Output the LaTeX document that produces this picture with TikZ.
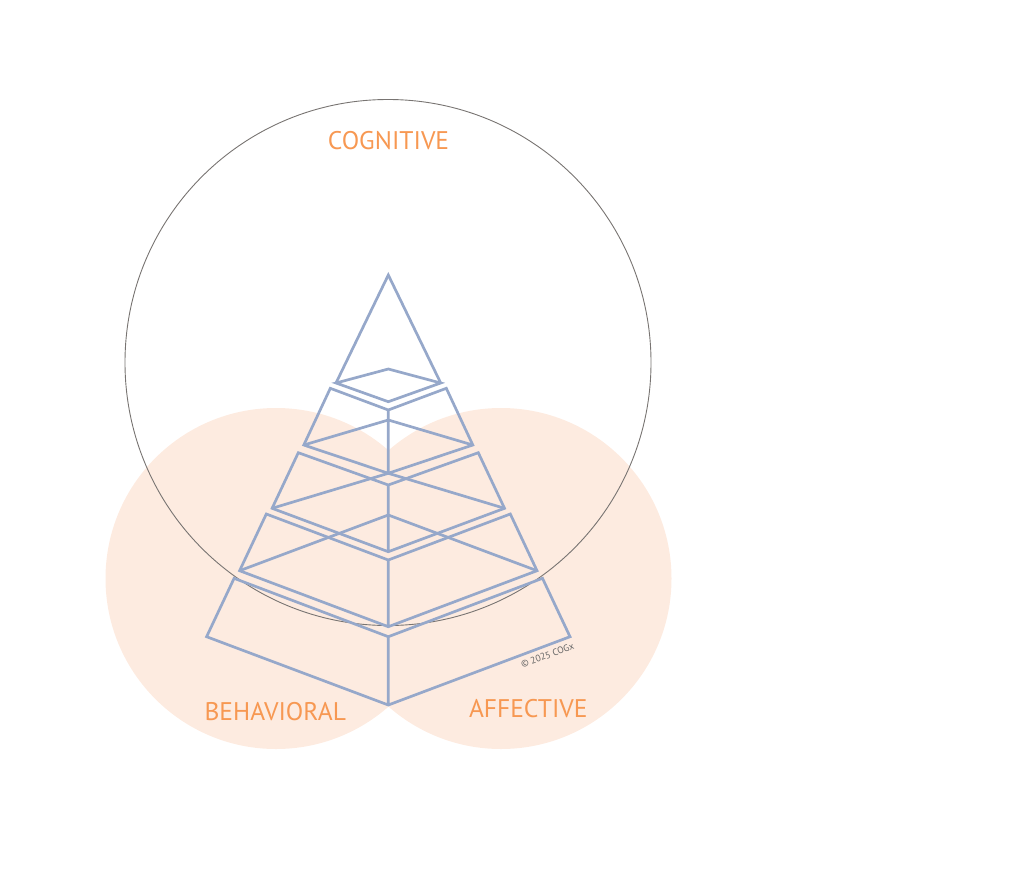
\documentclass[tikz,border=0pt]{standalone}
\usepackage{fontspec}
\setmainfont{PT Sans}
\definecolor{peach}{RGB}{253,235,224}
\definecolor{tagorange}{RGB}{247,152,82}
\definecolor{wire}{RGB}{150,168,202}
\definecolor{rim}{RGB}{120,116,114}
\begin{document}
\begin{tikzpicture}
  [x=1pt,y=-1pt,
   blob/.style={fill=peach,draw=none},
   slab/.style={draw=wire,line width=2.7pt},
   lbl/.style={text=tagorange,font=\fontsize{25.5}{30}\selectfont,anchor=base}]
  \useasboundingbox (0,0) rectangle (1024,889);
  \def\cx{388.3}
  % the three circles
  \fill[blob] (276,578.5) circle[radius=170.5];
  \fill[blob] (501,578.5) circle[radius=170.5];
  \draw[rim,line width=0.9pt] (388,362.5) circle[radius=263];
  % tip of the pyramid
  \coordinate (top) at (\cx,275);
  \coordinate (bl1) at (336,383);
  \coordinate (br1) at (440.7,383);
  \coordinate (bb1) at (\cx,369);
  \coordinate (bf1) at (\cx,401.7);
  \draw[slab] (bl1) -- (top) -- (br1);
  \draw[slab] (bl1) -- (bb1) -- (br1) -- (bf1) -- cycle;
  % the lower slices
  \foreach \i/\ty/\tw/\tf/\by/\bw/\bf in
    {2/388.3/58/410/445/84.5/473.3, 3/452.7/90/485/508.3/116.2/551.7,
     4/514/122/560/570.7/148.7/626.7, 5/578.3/154.2/636.7/636.7/181.7/705}
  {
    \coordinate (tl\i) at ({\cx-\tw},\ty);
    \coordinate (tr\i) at ({\cx+\tw},\ty);
    \coordinate (tf\i) at (\cx,\tf);
    \coordinate (bl\i) at ({\cx-\bw},\by);
    \coordinate (br\i) at ({\cx+\bw},\by);
    \coordinate (bf\i) at (\cx,\bf);
    \draw[slab] (tl\i) -- (tf\i) -- (tr\i) -- (br\i) -- (bf\i) -- (bl\i) -- cycle
                (tf\i) -- (bf\i);
  }
  % back edges seen through
  \foreach \i/\b in {2/420, 3/473.3, 4/515}
  {
    \coordinate (bb\i) at (\cx,\b);
    \draw[slab] (bl\i) -- (bb\i) -- (br\i);
  }
  % labels
  \node[lbl] (cog) at (388.5,149) {COGNITIVE};
  \node[lbl] (beh) at (275.3,720) {BEHAVIORAL};
  \node[lbl] (aff) at (528.3,717.7) {AFFECTIVE};
  \node[text=black!60,font=\fontsize{9.5}{11}\selectfont,rotate=20] (copy) at (547.5,655.5) {© 2025 COGx};
\end{tikzpicture}
\end{document}
